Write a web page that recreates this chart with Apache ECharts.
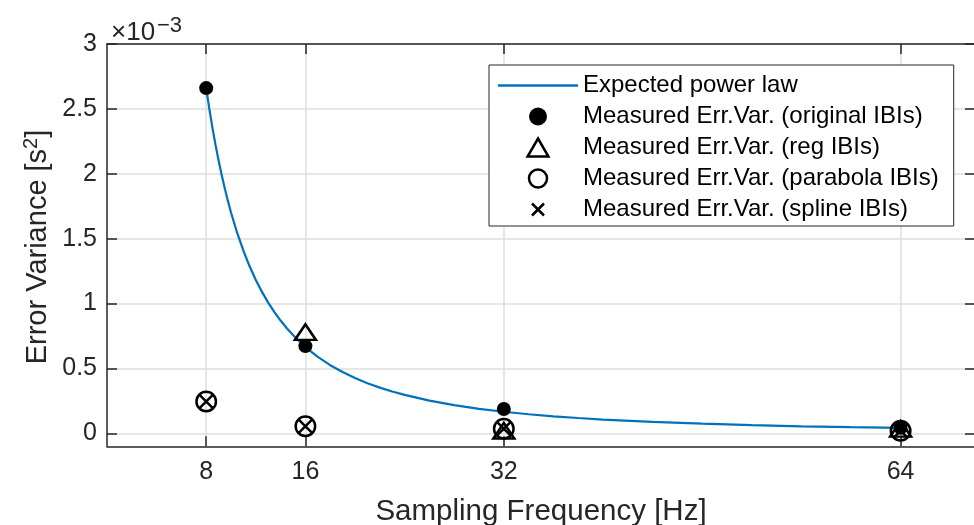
<!DOCTYPE html>
<html><head><meta charset="utf-8">
<script src="https://cdn.jsdelivr.net/npm/echarts@6/dist/echarts.min.js"></script>
<style>html,body{margin:0;padding:0;background:#fff}#c{width:974px;height:525px}</style>
</head><body><div id="c"></div>
<script>
// values in units of 1e-3 s^2
const freqTicks = [8, 16, 32, 64];
const yTicks = [0, 0.5, 1, 1.5, 2, 2.5, 3];
const measFreq = [8, 16, 32, 64];
const originalIBI = [2.66, 0.672, 0.187, 0.043];
const regIBI = [null, 0.78, 0.02, 0.035];
const parabolaIBI = [0.245, 0.055, 0.035, 0.02];
const splineIBI = [0.245, 0.055, 0.035, 0.02];
const curveFreq = [8, 8.25, 8.5, 8.75, 9, 9.25, 9.5, 9.75, 10, 10.5, 11, 11.5, 12, 12.5, 13, 13.5, 14, 14.5, 15, 15.5, 16,
  17, 18, 19, 20, 21, 22, 23, 24, 26, 28, 30, 32, 34, 36, 38, 40, 44, 48, 52, 56, 60, 64];
const curveVal = [2.660, 2.501, 2.356, 2.224, 2.102, 1.990, 1.886, 1.791, 1.702, 1.544, 1.407, 1.287, 1.182, 1.090, 1.007, 0.934, 0.869, 0.810, 0.757, 0.709, 0.665,
  0.589, 0.525, 0.472, 0.426, 0.386, 0.352, 0.322, 0.296, 0.252, 0.217, 0.189, 0.166, 0.147, 0.131, 0.118, 0.106, 0.088, 0.074, 0.063, 0.054, 0.047, 0.042];

const FONT = "'Liberation Sans', Arial, sans-serif";
const AX = '#262626';
const BLUE = '#0072BD';
const crossPath = 'path://M-6,-6L6,6M6,-6L-6,6M-9,-9M9,9';
const triPath = 'path://M0,-10L11,9L-11,9Z';
const linePath = 'path://M0,0L80,0L80,2.4L0,2.4Z';
const pairs = (xs, ys) => xs.map((x, i) => [x, ys[i]]).filter(p => p[1] !== null);

const chart = echarts.init(document.getElementById('c'), null, {renderer: 'canvas'});
const axisCommon = {
  axisLine: {show: true, onZero: false, lineStyle: {color: AX, width: 1.5}},
  axisTick: {show: true, inside: true, length: 10, lineStyle: {color: AX, width: 1.5}},
};
const hollow = {color: 'rgba(0,0,0,0)', borderColor: '#000', borderWidth: 2.5, opacity: 1};
chart.setOption({
  animation: false,
  backgroundColor: '#fff',
  grid: {left: 107, top: 44, right: -1, bottom: 78.7, outerBoundsMode: 'none', containLabel: false},
  xAxis: [{
    type: 'value', min: 0, max: 70, position: 'bottom',
    ...axisCommon,
    axisTick: {...axisCommon.axisTick, customValues: freqTicks},
    axisLabel: {customValues: freqTicks, color: AX, fontFamily: FONT, fontSize: 25, margin: 13},
    splitLine: {show: true, lineStyle: {color: '#dedede', width: 1.5}},
    name: 'Sampling Frequency [Hz]', nameLocation: 'middle', nameGap: 51,
    nameTextStyle: {color: AX, fontFamily: FONT, fontSize: 29.5}
  }, {
    type: 'value', min: 0, max: 70, position: 'top',
    ...axisCommon,
    axisTick: {...axisCommon.axisTick, customValues: freqTicks},
    axisLabel: {show: false}, splitLine: {show: false}
  }],
  yAxis: [{
    type: 'value', min: -0.1, max: 3, position: 'left',
    ...axisCommon,
    axisTick: {...axisCommon.axisTick, customValues: yTicks},
    axisLabel: {customValues: yTicks, color: AX, fontFamily: FONT, fontSize: 25, margin: 10},
    splitLine: {show: true, lineStyle: {color: '#dedede', width: 1.5}}
  }, {
    type: 'value', min: -0.1, max: 3, position: 'right',
    ...axisCommon,
    axisTick: {...axisCommon.axisTick, customValues: yTicks},
    axisLabel: {show: false}, splitLine: {show: false}
  }],
  legend: {
    orient: 'vertical', left: 489, top: 65,
    padding: [5, 15, 1, 9], itemGap: 0, itemWidth: 80, itemHeight: 18,
    backgroundColor: '#fff', borderColor: AX, borderWidth: 1, borderRadius: 0,
    textStyle: {fontFamily: FONT, fontSize: 24, color: '#000', lineHeight: 31},
    data: [
      {name: 'Expected power law', icon: linePath, itemStyle: {color: BLUE, borderWidth: 0, opacity: 1}},
      {name: 'Measured Err.Var. (original IBIs)', itemStyle: {color: '#000', opacity: 1}},
      {name: 'Measured Err.Var. (reg IBIs)', itemStyle: hollow},
      {name: 'Measured Err.Var. (parabola IBIs)', itemStyle: hollow},
      {name: 'Measured Err.Var. (spline IBIs)', itemStyle: hollow}
    ]
  },
  graphic: [
    {type: 'text', left: 111, top: 20, style: {text: '×10', font: '26px ' + FONT, fill: AX}},
    {type: 'text', left: 157, top: 15, style: {text: '−3', font: '22px ' + FONT, fill: AX}},
    {type: 'text', x: 38, y: 247, rotation: Math.PI / 2,
      style: {text: 'Error Variance [s{sup|2}]', font: '29px ' + FONT, fill: AX, align: 'center', verticalAlign: 'middle',
        lineHeight: 34,
        rich: {sup: {font: '20px ' + FONT, fill: AX, verticalAlign: 'top', lineHeight: 22}}}}
  ],
  series: [
    {name: 'Expected power law', type: 'line', data: pairs(curveFreq, curveVal), symbol: 'none', showSymbol: false,
      smooth: false, lineStyle: {color: BLUE, width: 2.2}, itemStyle: {color: BLUE}, z: 2},
    {name: 'Measured Err.Var. (original IBIs)', type: 'scatter', data: pairs(measFreq, originalIBI),
      symbol: 'circle', symbolSize: 14, itemStyle: {color: '#000', opacity: 1}, z: 3},
    {name: 'Measured Err.Var. (reg IBIs)', type: 'scatter', data: pairs(measFreq, regIBI),
      symbol: triPath, symbolSize: [21, 18], symbolKeepAspect: true, itemStyle: hollow, z: 4},
    {name: 'Measured Err.Var. (parabola IBIs)', type: 'scatter', data: pairs(measFreq, parabolaIBI),
      symbol: 'circle', symbolSize: 19.5, itemStyle: hollow, z: 5},
    {name: 'Measured Err.Var. (spline IBIs)', type: 'scatter', data: pairs(measFreq, splineIBI),
      symbol: crossPath, symbolSize: 20, itemStyle: hollow, z: 6}
  ]
});
</script></body></html>
